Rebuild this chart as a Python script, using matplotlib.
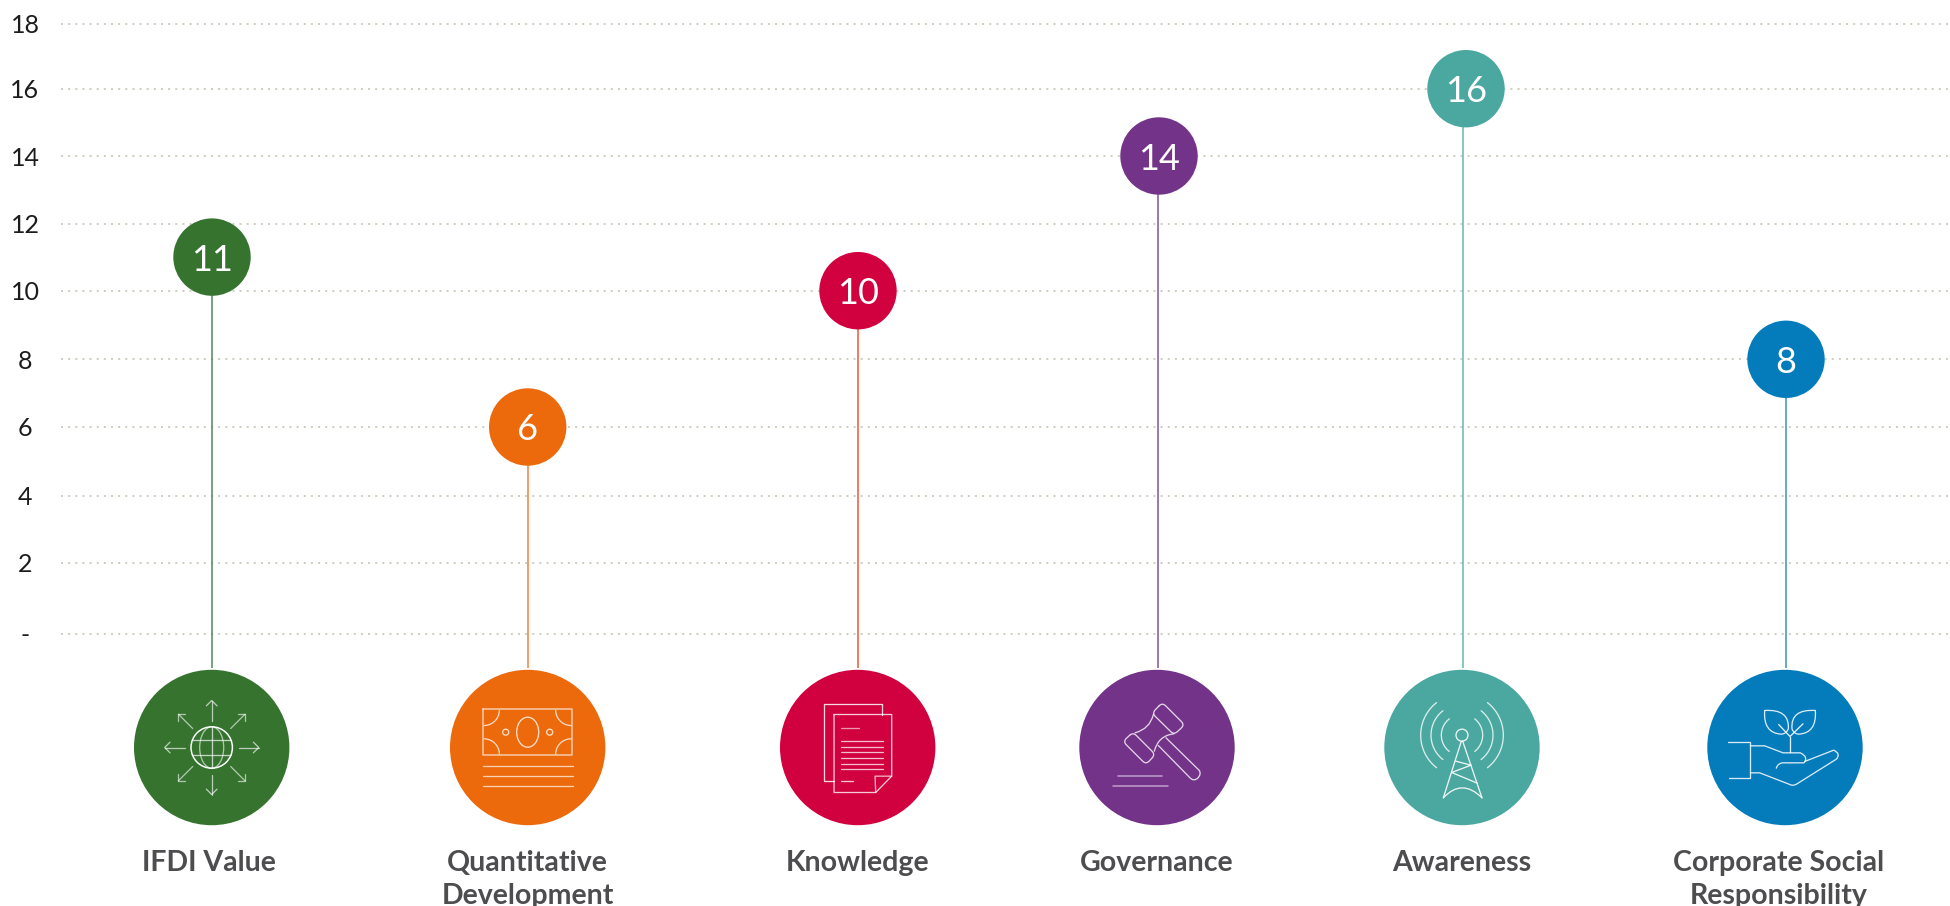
import numpy as np
import matplotlib
matplotlib.use("Agg")
import matplotlib.pyplot as plt
from matplotlib.path import Path
from matplotlib.patches import PathPatch, Circle, Ellipse

# ---- data ----
categories = ["IFDI Value", "Quantitative\nDevelopment", "Knowledge", "Governance",
              "Awareness", "Corporate Social\nResponsibility"]
values = [11, 6, 10, 14, 16, 8]
tick_values = [0, 2, 4, 6, 8, 10, 12, 14, 16, 18]
tick_labels = ["-", "2", "4", "6", "8", "10", "12", "14", "16", "18"]
colors = ["#35732f", "#ec6a0c", "#d1003f", "#733388", "#4ba8a0", "#047cbc"]
stem_colors = ["#4f8555", "#ef8038", "#ef5230", "#824f9c", "#63b5ab", "#3590c2"]

# ---- layout (pixels of the 1950x906 canvas) ----
W, H = 1950, 906
PX = 72 / 100
stem_x = [212, 527.7, 857.7, 1157.5, 1462.5, 1785.5]
bubble_x = [212, 527.7, 858, 1159, 1466, 1786]
icon_x = [211.7, 527.7, 857.7, 1157, 1462, 1785]
label_x = [209, 527.7, 857.5, 1156.7, 1462, 1779]
ICON_ROW = 747.5
ICON_R = 77.7
BUBBLE_R = 38.7
axis_knots = [-8, 0, 2, 4, 6, 8, 10, 12, 14, 16, 18, 19]
axis_rows = [906, 634, 563, 495.7, 427, 359.3, 290.7, 223.5, 156, 88.7, 23.5, 0]

plt.rcParams["font.family"] = ["Lato", "DejaVu Sans"]
fig = plt.figure(figsize=(W / 100, H / 100), dpi=100, facecolor="white")

ax = fig.add_axes([0, 0, 1, 1])
knots = np.array(axis_knots, float)
rows = -np.array(axis_rows, float)
ax.set_yscale("function", functions=(lambda v: np.interp(v, knots, rows),
                                     lambda r: np.interp(r, rows, knots)))
ax.set_xlim(0, W)
ax.set_ylim(-8, 19)
for s in ax.spines.values():
    s.set_visible(False)
ax.set_xticks([])
ax.set_yticks(tick_values, tick_labels)
ax.tick_params(axis="y", length=0, pad=-25 * PX, labelsize=18, labelcolor="#1c1c1c")
for t in ax.get_yticklabels():
    t.set_ha("center")

ax.hlines(tick_values, 61, W, colors="#c8c8b8", linewidth=1.7 * PX,
          linestyles=[(0, (1.2, 3.0))], zorder=1)
ax.vlines(stem_x, -1, values, colors=stem_colors, linewidth=1.5 * PX, zorder=2)
ax.scatter(bubble_x, values, s=(2 * BUBBLE_R * PX) ** 2, c=colors, linewidths=0, zorder=3)
for x, v in zip(bubble_x, values):
    ax.text(x, v, str(v), color="white", fontsize=26, fontweight="normal",
            ha="center", va="center_baseline", zorder=5)

# ---- pixel overlay for the icon row ----
ov = fig.add_axes([0, 0, 1, 1], facecolor="none")
ov.set_xlim(0, W)
ov.set_ylim(H, 0)
ov.axis("off")


def stroke(cx, cy, origin, cmds, alpha=0.9, lw=1.3):
    """Draw an icon outline given in zoom units (3x) relative to origin."""
    verts, codes = [], []
    conv = lambda p: (cx + (p[0] - origin[0]) / 3, cy + (p[1] - origin[1]) / 3)
    for c in cmds:
        if c[0] == "M":
            verts.append(conv(c[1])); codes.append(Path.MOVETO)
        elif c[0] == "L":
            verts.append(conv(c[1])); codes.append(Path.LINETO)
        else:
            verts += [conv(c[1]), conv(c[2])]; codes += [Path.CURVE3, Path.CURVE3]
    ov.add_patch(PathPatch(Path(verts, codes), fc="none", ec="white", lw=lw * PX,
                           alpha=alpha, zorder=4, capstyle="round", joinstyle="round"))


def poly(*pts):
    return [("M", pts[0])] + [("L", p) for p in pts[1:]]


def rounded(pts, r):
    n = len(pts)
    out = []
    for i in range(n):
        p0, p1, p2 = (np.array(pts[(i + k) % n], float) for k in (-1, 0, 1))
        a = p1 + (p0 - p1) / np.linalg.norm(p0 - p1) * r
        b = p1 + (p2 - p1) / np.linalg.norm(p2 - p1) * r
        out += [("M" if i == 0 else "L", tuple(a)), ("Q", tuple(p1), tuple(b))]
    out.append(("L", out[0][1]))
    return out


def arc(c, r, a0, a1, n=24):
    t = np.radians(np.linspace(a0, a1, n))
    return poly(*[(c[0] + r * np.cos(x), c[1] + r * np.sin(x)) for x in t])


def ring(cx, cy, ox, oy, rx, ry, alpha=0.9, lw=1.3):
    ov.add_patch(Ellipse((cx + ox, cy + oy), 2 * rx, 2 * ry, fc="none", ec="white",
                         lw=lw * PX, alpha=alpha, zorder=4))


for x, c in zip(icon_x, colors):
    ov.add_patch(Circle((x, ICON_ROW), ICON_R, fc=c, ec="none", zorder=3))

# globe
cx, cy = icon_x[0], ICON_ROW
O = (0, 0)
ring(cx, cy, 0, 0, 20.7, 20.7, 1, 1.5)
ring(cx, cy, 0, 0, 12, 20.7, 0.6)
for c in (poly((0, -62), (0, 62)), poly((-58, -22), (58, -22)), poly((-58, 22), (58, 22))):
    stroke(cx, cy, O, c, 0.7)
for sx, sy in ((0, -1), (0, 1), (-1, 0), (1, 0)):
    px, py = -sy, sx
    stroke(cx, cy, O, poly((sx * 81, sy * 81), (sx * 141, sy * 141)), 0.65)
    stroke(cx, cy, O, poly((sx * 125 + px * 16, sy * 125 + py * 16), (sx * 141, sy * 141),
                           (sx * 125 - px * 16, sy * 125 - py * 16)), 0.65)
for sx, sy in ((-1, -1), (1, -1), (-1, 1), (1, 1)):
    stroke(cx, cy, O, poly((sx * 57, sy * 57), (sx * 100, sy * 100)), 0.6)
    stroke(cx, cy, O, poly((sx * 80, sy * 100), (sx * 100, sy * 100), (sx * 100, sy * 80)), 0.6)

# banknote
cx = icon_x[1]
O = (1253, 292)
stroke(cx, cy, O, poly((1120, 177), (1385, 177), (1385, 314), (1120, 314), (1120, 177)), 0.65, 1.5)
ring(cx, cy, 0, -15.3, 11, 15, 0.8)
ring(cx, cy, -22, -15.3, 3, 3, 0.8)
ring(cx, cy, 22, -15.3, 3, 3, 0.8)
for c, a0, a1 in (((1122, 180), 0, 90), ((1383, 180), 90, 180),
                  ((1122, 312), -90, 0), ((1383, 312), 180, 270)):
    stroke(cx, cy, O, arc(c, 46, a0, a1), 0.75)
for y in (346, 377, 408):
    stroke(cx, cy, O, poly((1120, y), (1388, y)), 0.7)

# documents
cx = icon_x[2]
O = (293, 292)
stroke(cx, cy, O, poly((365, 193), (365, 160), (193, 160), (193, 393), (222, 393)), 0.85)
stroke(cx, cy, O, poly((222, 193), (395, 193), (395, 378), (347, 427), (222, 427), (222, 193)), 0.8)
stroke(cx, cy, O, poly((395, 378), (345, 378), (347, 427)), 0.7)
stroke(cx, cy, O, poly((242, 233), (296, 233)), 0.6)
for y in (272, 289, 306, 323, 340, 357):
    stroke(cx, cy, O, poly((242, y), (369, y)), 0.75)
stroke(cx, cy, O, poly((242, 391), (278, 391)), 0.8)

# gavel
cx = icon_x[3]
O = (171, 171)
stroke(cx, cy, O, rounded([(187, 36), (254, 103), (222, 133), (156, 68)], 14), 0.8)
stroke(cx, cy, O, rounded([(99, 125), (166, 192), (138, 222), (69, 153)], 14), 0.8)
stroke(cx, cy, O, [("M", (160, 72)), ("Q", (150, 115), (105, 127))], 0.8)
stroke(cx, cy, O, [("M", (222, 130)), ("Q", (175, 135), (163, 182))], 0.8)
stroke(cx, cy, O, [("M", (198, 142)), ("L", (298, 240)), ("Q", (305, 252), (292, 264)),
                   ("Q", (282, 272), (272, 264)), ("L", (175, 165))], 0.8)
stroke(cx, cy, O, poly((54, 257), (185, 257)), 0.55, 1.5)
stroke(cx, cy, O, poly((40, 285), (203, 285)), 0.55, 1.5)

# tower
cx = icon_x[4]
O = (186, 171)
ring(cx, cy, 0, (134 - 171) / 3, 6, 6)
stroke(cx, cy, O, poly((130, 322), (184, 152)))
stroke(cx, cy, O, poly((246, 322), (188, 152)))
stroke(cx, cy, O, [("M", (130, 322)), ("Q", (186, 262), (246, 322))])
stroke(cx, cy, O, poly((167, 212), (213, 224), (155, 246), (232, 278)))
for r in (62, 93, 124):
    stroke(cx, cy, O, arc((186, 134), r, 128, 232), 0.8)
    stroke(cx, cy, O, arc((186, 134), r, -52, 52), 0.8)

# hand and plant
cx = icon_x[5]
O = (226, 171)
stroke(cx, cy, O, [("M", (165, 60)), ("Q", (240, 55), (236, 115)), ("Q", (230, 130), (215, 131)),
                   ("Q", (160, 128), (165, 60))], 0.85)
stroke(cx, cy, O, [("M", (317, 60)), ("Q", (242, 55), (247, 115)), ("Q", (252, 130), (267, 131)),
                   ("Q", (322, 128), (317, 60))], 0.85)
stroke(cx, cy, O, poly((241, 185), (241, 138)))
stroke(cx, cy, O, poly((207, 102), (241, 138), (280, 100)))
stroke(cx, cy, O, poly((55, 155), (122, 155), (122, 262), (58, 262)), 0.85)
stroke(cx, cy, O, [("M", (122, 166)), ("L", (165, 166)), ("L", (220, 187)), ("L", (272, 187)),
                   ("Q", (298, 200), (283, 217)), ("L", (218, 217)), ("Q", (203, 220), (200, 233))], 0.85)
stroke(cx, cy, O, [("M", (285, 213)), ("L", (372, 179)), ("Q", (395, 190), (380, 206)),
                   ("L", (262, 280)), ("Q", (250, 288), (238, 281)), ("L", (150, 247)), ("L", (122, 247))], 0.85)

for x, label in zip(label_x, categories):
    ov.text(x, 850, label, ha="center", va="top", fontsize=20.5, fontweight="bold",
            color="#4d4d4f", linespacing=1.33, zorder=5)

fig.savefig("out.png", dpi=100, facecolor="white")
